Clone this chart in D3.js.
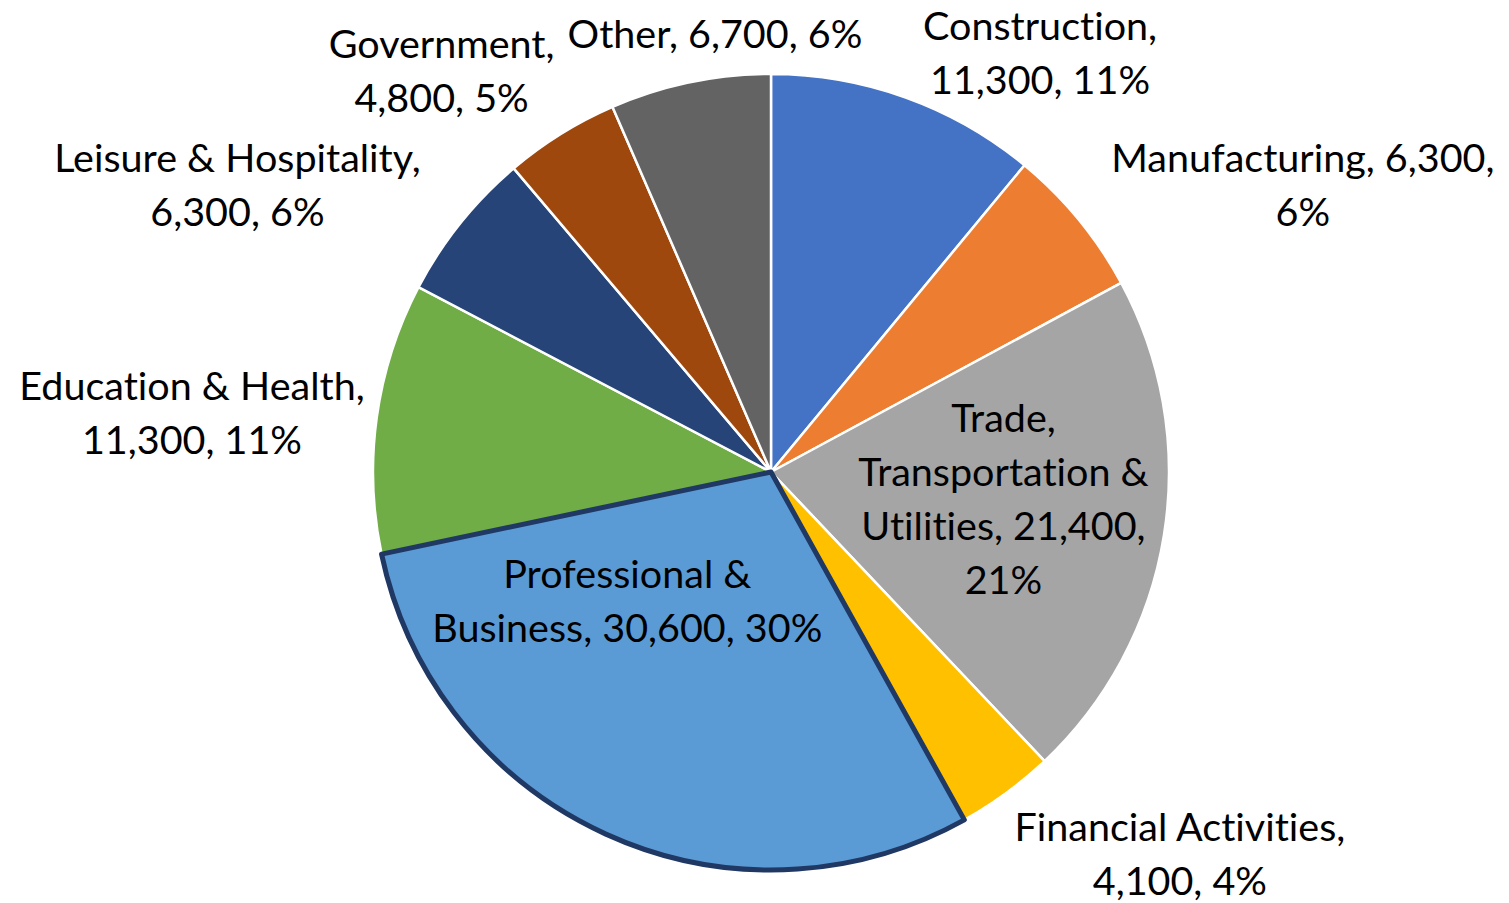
<!DOCTYPE html>
<html>
<head>
<meta charset="utf-8">
<script src="https://cdn.jsdelivr.net/npm/d3@7"></script>
<style>
  body { margin: 0; background: #fff; }
  text { font-family: Lato, "Open Sans", sans-serif; fill: #000; font-variant-ligatures: none; }
</style>
</head>
<body>
<div id="chart"></div>
<script>
var width = 1509, height = 903;
var cx = 771, cy = 472, radius = 398;

// data
var sectors = ['Construction', 'Manufacturing', 'Trade, Transportation & Utilities',
  'Financial Activities', 'Professional & Business', 'Education & Health',
  'Leisure & Hospitality', 'Government', 'Other'];
var jobs = [11300, 6300, 21400, 4100, 30600, 11300, 6300, 4800, 6700];
var pcts = ['11%', '6%', '21%', '4%', '30%', '11%', '6%', '5%', '6%'];
var colors = ['#4472C4', '#ED7D31', '#A5A5A5', '#FFC000', '#5B9BD5',
  '#70AD47', '#264478', '#9E480E', '#636363'];

// label lines (as wrapped in the chart)
var labelLines = [
  ['Construction,', '11,300, 11%'],
  ['Manufacturing, 6,300,', '6%'],
  ['Trade,', 'Transportation &', 'Utilities, 21,400,', '21%'],
  ['Financial Activities,', '4,100, 4%'],
  ['Professional &', 'Business, 30,600, 30%'],
  ['Education & Health,', '11,300, 11%'],
  ['Leisure & Hospitality,', '6,300, 6%'],
  ['Government,', '4,800, 5%'],
  ['Other, 6,700, 6%']
];
// label placement: [angle in degrees from top, distance from centre]
var labelPolar = [[32.7, 498], [61.7, 604], [96.6, 234], [133.1, 560], [228.1, 193],
  [275.8, 582], [298.3, 606], [320.6, 519], [352.7, 441]];

var data = sectors.map(function(s, i){
  return {name: s, value: jobs[i], pct: pcts[i], color: colors[i], lines: labelLines[i], lp: labelPolar[i], idx: i};
});

var svg = d3.select('#chart')
  .append('svg')
  .attr('width', width)
  .attr('height', height);

var pie = d3.pie().sort(null).value(function(d){ return d.value; });
var arc = d3.arc().innerRadius(0).outerRadius(radius);

var g = svg.append('g').attr('transform', 'translate(' + cx + ',' + cy + ')');

var arcs = pie(data);

g.selectAll('.slice')
  .data(arcs)
  .enter()
  .append('path')
  .attr('class', 'slice')
  .attr('d', arc)
  .attr('fill', function(d){ return d.data.color; })
  .attr('stroke', '#fff')
  .attr('stroke-width', 2.5)
  .attr('stroke-linejoin', 'round');

// highlighted slice border
g.append('path')
  .datum(arcs[4])
  .attr('d', arc)
  .attr('fill', 'none')
  .attr('stroke', '#203864')
  .attr('stroke-width', 5)
  .attr('stroke-linejoin', 'round');

var lineH = 54, fontSize = 39.5;

var labels = g.selectAll('.lbl')
  .data(arcs)
  .enter()
  .append('text')
  .attr('class', 'lbl')
  .attr('text-anchor', 'middle')
  .style('font-size', fontSize + 'px')
  .attr('transform', function(d){
    var a = d.data.lp[0] * Math.PI / 180, r = d.data.lp[1];
    return 'translate(' + (r * Math.sin(a)) + ',' + (-r * Math.cos(a)) + ')';
  });

labels.each(function(d){
  var n = d.data.lines.length;
  var t = d3.select(this);
  d.data.lines.forEach(function(line, i){
    t.append('tspan')
      .attr('x', 0)
      .attr('y', (i - (n - 1) / 2) * lineH)
      .attr('dy', '0.35em')
      .text(line);
  });
});
</script>
</body>
</html>
